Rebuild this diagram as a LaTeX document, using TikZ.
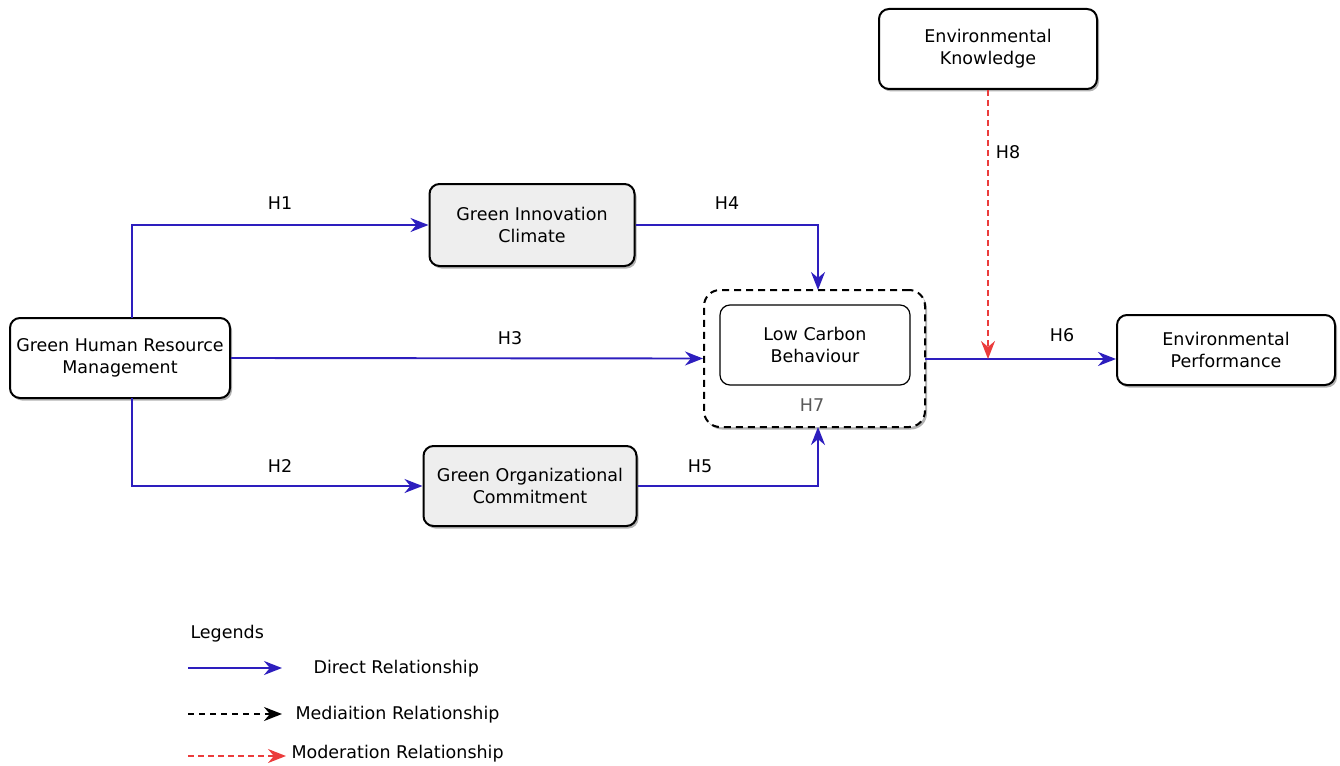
\documentclass[tikz,border=0pt]{standalone}
\usepackage{fontspec}
\setmainfont{DejaVu Sans}
\usetikzlibrary{arrows.meta,shadows}
\definecolor{dblue}{RGB}{45,30,190}
\definecolor{mred}{RGB}{235,60,60}
\definecolor{boxgray}{RGB}{238,238,238}
\begin{document}
\begin{tikzpicture}[x=1pt,y=-1pt,
  box/.style={draw=black,line width=2pt,rounded corners=10pt,fill=white,align=center,
     font=\fontsize{17.5}{22}\selectfont,inner sep=0pt,
     drop shadow={shadow xshift=2pt,shadow yshift=-2.5pt,opacity=0.3,fill=black}},
  graybox/.style={box,fill=boxgray},
  tip/.style={-{Stealth[length=18pt,width=14pt]}},
  direct/.style={draw=dblue,line width=1.9pt,tip},
  medi/.style={draw=black,line width=1.7pt,dash pattern=on 6pt off 5pt,tip},
  moder/.style={draw=mred,line width=1.7pt,dash pattern=on 6pt off 4pt,tip},
  lbl/.style={font=\fontsize{17.5}{21}\selectfont},
]
\useasboundingbox (0,0) rectangle (1340,765);
% nodes
\node[box,minimum width=220pt,minimum height=80pt] (ghrm) at (120,358) {Green Human Resource\\Management};
\node[graybox,minimum width=205pt,minimum height=82pt] (gic) at (532,225) {Green Innovation\\Climate};
\node[graybox,minimum width=213pt,minimum height=80pt] (goc) at (530,486) {Green Organizational\\Commitment};
\node[draw=black,line width=2pt,dash pattern=on 7pt off 5pt,rounded corners=16pt,
      minimum width=221pt,minimum height=137pt,
      drop shadow={shadow xshift=2pt,shadow yshift=-2.5pt,opacity=0.3,fill=black},fill=white] (lcbo) at (814.5,358.5) {};
\node[draw=black,line width=1.2pt,rounded corners=10pt,fill=white,minimum width=190pt,minimum height=80pt,
      align=center,font=\fontsize{17.5}{22}\selectfont,inner sep=0pt] (lcb) at (815,345) {Low Carbon\\Behaviour};
\node[font=\fontsize{17.5}{21}\selectfont,text=black!65] (h7) at (812,405) {H7};
\node[box,minimum width=218pt,minimum height=80pt] (ek) at (988,49) {Environmental\\Knowledge};
\node[box,minimum width=218pt,minimum height=70pt] (ep) at (1226,350) {Environmental\\Performance};
% coordinates
\coordinate (ghrmT) at (132,318);
\coordinate (ghrmB) at (132,398);
\coordinate (lcbT) at (818,290);
\coordinate (lcbB) at (818,427);
\coordinate (outR) at (925,359);
\coordinate (modpt) at (988,359);
% connectors
\draw[direct] (ghrmT) |- (gic.west);
\draw[direct] (ghrmB) |- (goc.west);
\draw[direct] (ghrm.east) -- (lcbo.west);
\draw[direct] (gic.east) -| (lcbT);
\draw[direct] (goc.east) -| (lcbB);
\draw[direct] (outR) -- (outR -| ep.west);
\draw[moder] (ek.south) -- (modpt);
% labels
\node[lbl] (h1) at (280,203) {H1};
\node[lbl] (h2) at (280,466) {H2};
\node[lbl] (h3) at (510,338) {H3};
\node[lbl] (h4) at (727,203) {H4};
\node[lbl] (h5) at (700,466) {H5};
\node[lbl] (h6) at (1062,335) {H6};
\node[lbl] (h8) at (1008,152) {H8};
% legend
\node[lbl,anchor=west] (leg) at (187,634) {Legends};
\coordinate (l1a) at (188,668); \coordinate (l1b) at (282,668);
\coordinate (l2a) at (188,714); \coordinate (l2b) at (282,714);
\coordinate (l3a) at (188,756); \coordinate (l3b) at (286,756);
\draw[direct] (l1a) -- (l1b);
\draw[medi] (l2a) -- (l2b);
\draw[moder] (l3a) -- (l3b);
\node[lbl,anchor=west] (t1) at (310,669) {Direct Relationship};
\node[lbl,anchor=west] (t2) at (292,715) {Mediaition Relationship};
\node[lbl,anchor=west] (t3) at (288,754) {Moderation Relationship};
\end{tikzpicture}
\end{document}
